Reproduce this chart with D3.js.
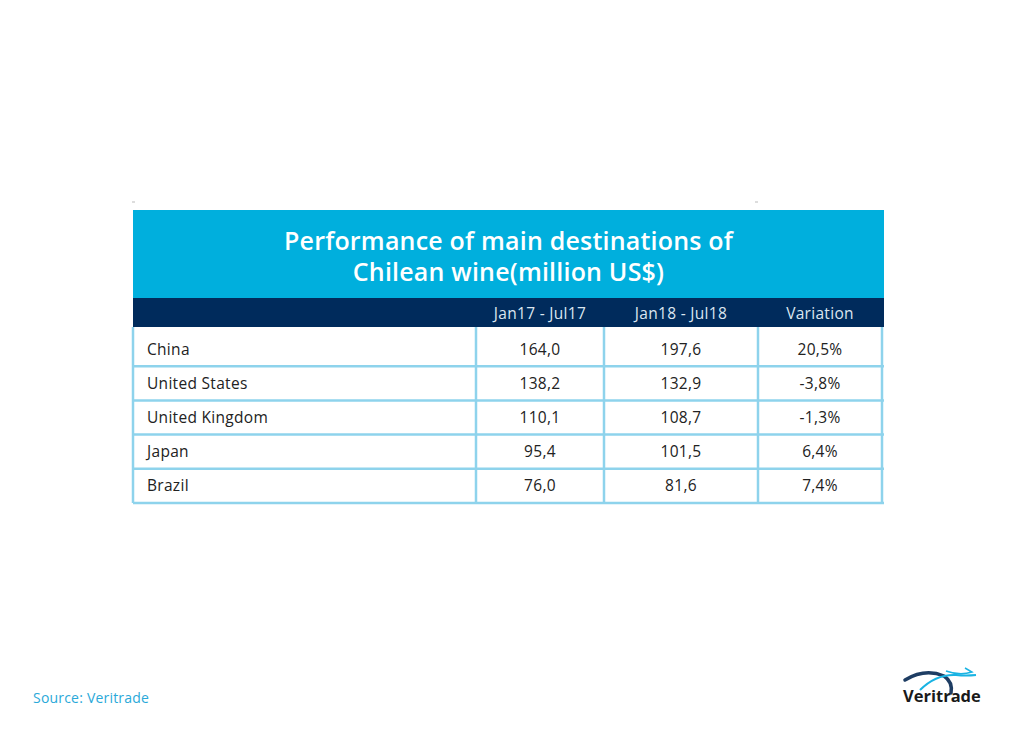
<!DOCTYPE html>
<html><head><meta charset="utf-8">
<script src="https://cdn.jsdelivr.net/npm/d3@7/dist/d3.min.js"></script>
<style>body{margin:0;background:#fff;}svg{display:block;}</style>
</head><body>
<script>
const titleLines = ["Performance of main destinations of", "Chilean wine(million US$)"];
const columns = ["Jan17 - Jul17", "Jan18 - Jul18", "Variation"];
const countries = ["China", "United States", "United Kingdom", "Japan", "Brazil"];
const jan17 = ["164,0", "138,2", "110,1", "95,4", "76,0"];
const jan18 = ["197,6", "132,9", "108,7", "101,5", "81,6"];
const variation = ["20,5%", "-3,8%", "-1,3%", "6,4%", "7,4%"];
const source = "Source: Veritrade";

const W = 1018, H = 744;
const font = "'Open Sans', sans-serif";
const svg = d3.select("body").append("svg").attr("width", W).attr("height", H);

const left = 133, right = 884;
const colEdges = [left, 476, 604, 758, 882];
const y = d3.scaleBand().domain(countries).range([332, 503]);

// title band
svg.append("rect").attr("x", left).attr("y", 210).attr("width", right - left).attr("height", 88).attr("fill", "#00afdd");
const title = svg.append("text").attr("text-anchor", "middle")
  .attr("fill", "#fff").attr("font-family", font).attr("font-size", 25).attr("font-weight", 600)
  .attr("letter-spacing", 0.2);
title.selectAll("tspan").data(titleLines).join("tspan")
  .attr("x", (left + right) / 2).attr("y", (d, i) => 250 + i * 31).text(d => d);

// header band
svg.append("rect").attr("x", left).attr("y", 298).attr("width", right - left).attr("height", 29).attr("fill", "#002b5c");
svg.append("g").selectAll("text").data(columns).join("text")
  .attr("x", (d, i) => (colEdges[i + 1] + colEdges[i + 2]) / 2)
  .attr("y", 319).attr("text-anchor", "middle").attr("fill", "#dce6f0")
  .attr("font-family", font).attr("font-size", 15.5).attr("letter-spacing", 0.3).text(d => d);

// grid
const lineColor = "#8ed3ec";
const g = svg.append("g");
g.selectAll("line.v").data(colEdges).join("line")
  .attr("x1", d => d).attr("x2", d => d).attr("y1", 327).attr("y2", 503)
  .attr("stroke", lineColor).attr("stroke-width", 2.5);
g.selectAll("line.h").data(countries).join("line")
  .attr("x1", left).attr("x2", right)
  .attr("y1", d => y(d) + y.bandwidth()).attr("y2", d => y(d) + y.bandwidth())
  .attr("stroke", lineColor).attr("stroke-width", 2.5);

// body text
const body = svg.append("g").attr("font-family", font).attr("font-size", 15.5)
  .attr("letter-spacing", 0.3).attr("fill", "#222");
body.selectAll("text.c").data(countries).join("text")
  .attr("x", 147).attr("y", d => y(d) + y.bandwidth() / 2 + 5.5).text(d => d);
[jan17, jan18, variation].forEach((arr, ci) => {
  body.selectAll(null).data(arr).join("text")
    .attr("x", (colEdges[ci + 1] + colEdges[ci + 2]) / 2)
    .attr("y", (d, i) => y(countries[i]) + y.bandwidth() / 2 + 5.5)
    .attr("text-anchor", "middle").text(d => d);
});

// tiny marks
svg.append("line").attr("x1", 132).attr("x2", 135).attr("y1", 202).attr("y2", 202).attr("stroke", "#bbb");
svg.append("line").attr("x1", 755).attr("x2", 758).attr("y1", 202).attr("y2", 202).attr("stroke", "#bbb");

// source
svg.append("text").attr("x", 33).attr("y", 703).attr("fill", "#2aa9d9")
  .attr("font-family", font).attr("font-size", 14).attr("letter-spacing", 0.2).text(source);

// logo
const logo = svg.append("g");
logo.append("path").attr("d", "M905,680 Q925,668 944,676 Q953,682 951,693")
  .attr("fill", "none").attr("stroke", "#1e3d63").attr("stroke-width", 3.5).attr("stroke-linecap", "round");
logo.append("path").attr("d", "M920,690 Q936,674 956,675 Q966,676 976,675")
  .attr("fill", "none").attr("stroke", "#19b3e3").attr("stroke-width", 2);
logo.append("path").attr("d", "M946,671 Q960,676 972,672 L965,668")
  .attr("fill", "none").attr("stroke", "#19b3e3").attr("stroke-width", 1.5);
logo.append("text").attr("x", 903).attr("y", 702).attr("fill", "#1a1a1a")
  .attr("font-family", font).attr("font-size", 16.5).attr("font-weight", 700).text("Veritrade");
</script>
</body></html>
